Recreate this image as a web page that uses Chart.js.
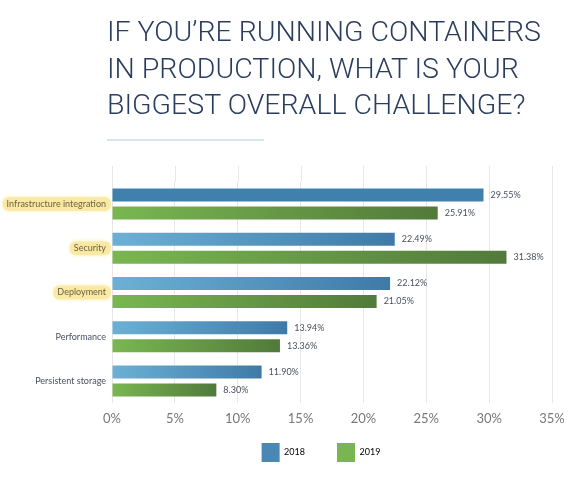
<!DOCTYPE html>
<html>
<head>
<meta charset="utf-8">
<script src="https://cdn.jsdelivr.net/npm/chart.js@4/dist/chart.umd.min.js"></script>
<style>
  html, body { margin: 0; padding: 0; background: #fff; }
  #wrap { position: relative; width: 576px; height: 477px; overflow: hidden; }
  #title {
    position: absolute; left: 107px; top: 14px;
    font-family: Roboto, "Liberation Sans", sans-serif;
    font-size: 28px; font-weight: 300; line-height: 36.5px;
    color: #2a3d5e; white-space: nowrap;
    transform-origin: 0 0;
  }
  #rule { position: absolute; left: 107px; top: 139px; width: 157px; height: 2px; background: #d6e4eb; }
  #chart { position: absolute; left: 0; top: 0; }
</style>
</head>
<body>
<div id="wrap">
  <canvas id="chart" width="576" height="477"></canvas>
  <div id="title">IF YOU’RE RUNNING CONTAINERS<br>IN PRODUCTION, WHAT IS YOUR<br>BIGGEST OVERALL CHALLENGE?</div>
  <div id="rule"></div>
</div>
<script>
const categories = ["Infrastructure integration", "Security", "Deployment", "Performance", "Persistent storage"];
const values2018 = [29.55, 22.49, 22.12, 13.94, 11.90];
const values2019 = [25.91, 31.38, 21.05, 13.36, 8.30];
const highlighted = [true, true, true, false, false];
const xTicks = [0, 5, 10, 15, 20, 25, 30, 35];

const blue = { light: "#6cb1d5", dark: "#3f7aa7", solid: "#3f80ad", legend: "#4a87b4" };
const green = { light: "#79b750", dark: "#527a3b", legend: "#7ab553" };

// squeeze the title so the first line is as wide as in the picture
(function fitTitle() {
  const el = document.getElementById("title");
  const m = document.createElement("canvas").getContext("2d");
  m.font = "300 28px Roboto";
  const w = m.measureText("IF YOU’RE RUNNING CONTAINERS").width;
  el.style.transform = "scaleX(" + (434 / w) + ")";
})();

// each bar gets its own left-to-right gradient
function barFill(context, pal) {
  const chart = context.chart;
  if (!chart.chartArea || context.type !== "data") return pal.dark;
  if (pal.solid && context.dataIndex === 0) return pal.solid;
  const xs = chart.scales.x;
  const x0 = xs.getPixelForValue(0);
  const x1 = xs.getPixelForValue(context.raw);
  const g = chart.ctx.createLinearGradient(x0, 0, x1, 0);
  g.addColorStop(0, pal.light);
  g.addColorStop(1, pal.dark);
  return g;
}

const markerPlugin = {
  id: "marker",
  beforeDraw(chart) {
    const ys = chart.scales.y;
    const ctx = chart.ctx;
    ctx.save();
    ctx.font = "9px Lato";
    ctx.fillStyle = "rgba(249, 230, 150, 0.7)";
    ctx.shadowColor = "rgba(249, 230, 150, 0.9)";
    ctx.shadowBlur = 4;
    categories.forEach((c, i) => {
      if (!highlighted[i]) return;
      const y = ys.getPixelForTick(i);
      const right = ys.right - 6;
      const w = ctx.measureText(c).width;
      ctx.beginPath();
      ctx.roundRect(right - w - 4, y - 7, w + 9, 14, 6);
      ctx.fill();
    });
    ctx.restore();
  },
  beforeDatasetsDraw(chart) {
    // grid lines run a little above the first category
    const xs = chart.scales.x;
    const ctx = chart.ctx;
    ctx.save();
    ctx.strokeStyle = "#e7e7e7";
    ctx.lineWidth = 1;
    xTicks.forEach((t) => {
      const x = Math.round(xs.getPixelForValue(t)) + 0.5;
      ctx.beginPath();
      ctx.moveTo(x, 166);
      ctx.lineTo(x, chart.chartArea.top);
      ctx.stroke();
    });
    ctx.restore();
  },
  afterDatasetsDraw(chart) {
    const ctx = chart.ctx;
    ctx.save();
    ctx.font = "9px Lato";
    ctx.fillStyle = "#4b4f5e";
    ctx.textBaseline = "middle";
    chart.data.datasets.forEach((ds, di) => {
      chart.getDatasetMeta(di).data.forEach((bar, i) => {
        ctx.fillText(ds.data[i].toFixed(2) + "%", bar.x + 7, bar.y);
      });
    });
    ctx.restore();
  }
};

Chart.defaults.font.family = "Lato";

new Chart(document.getElementById("chart"), {
  type: "bar",
  data: {
    labels: categories,
    datasets: [
      {
        label: "2018",
        data: values2018,
        backgroundColor: (c) => barFill(c, blue),
        categoryPercentage: 0.815,
        barPercentage: 0.72,
      },
      {
        label: "2019",
        data: values2019,
        backgroundColor: (c) => barFill(c, green),
        categoryPercentage: 0.815,
        barPercentage: 0.72,
      },
    ],
  },
  options: {
    indexAxis: "y",
    responsive: false,
    animation: false,
    layout: { padding: { top: 182, left: 90, right: 24, bottom: 5 } },
    scales: {
      x: {
        min: 0,
        max: 35,
        ticks: {
          stepSize: 5,
          padding: 8,
          color: "#777",
          font: { size: 13 },
          callback: (v) => v + "%",
        },
        grid: { color: "#e7e7e7", drawTicks: false },
        border: { display: false },
        afterFit: (s) => { s.height = 26; },
      },
      y: {
        ticks: {
          padding: 6,
          color: highlighted.map((h) => (h ? "#6b6446" : "#4b4f5e")),
          font: { size: 9 },
        },
        grid: { display: false, drawTicks: false },
        border: { display: false },
        afterFit: (s) => {
          s.width = 22;
          // long labels reach past the narrow axis box, so don't clip them
          s._computeLabelArea = () => undefined;
        },
      },
    },
    plugins: {
      tooltip: { enabled: false },
      legend: {
        position: "bottom",
        labels: {
          boxWidth: 18,
          boxHeight: 19,
          padding: 14,
          color: "#4b4f5e",
          font: { size: 9 },
          generateLabels: () => [
            { text: "2018\u2003\u2003\u2002", fillStyle: blue.legend, strokeStyle: blue.legend, lineWidth: 0, datasetIndex: 0 },
            { text: "2019", fillStyle: green.legend, strokeStyle: green.legend, lineWidth: 0, datasetIndex: 1 },
          ],
        },
      },
    },
  },
  plugins: [markerPlugin],
});
</script>
</body>
</html>
